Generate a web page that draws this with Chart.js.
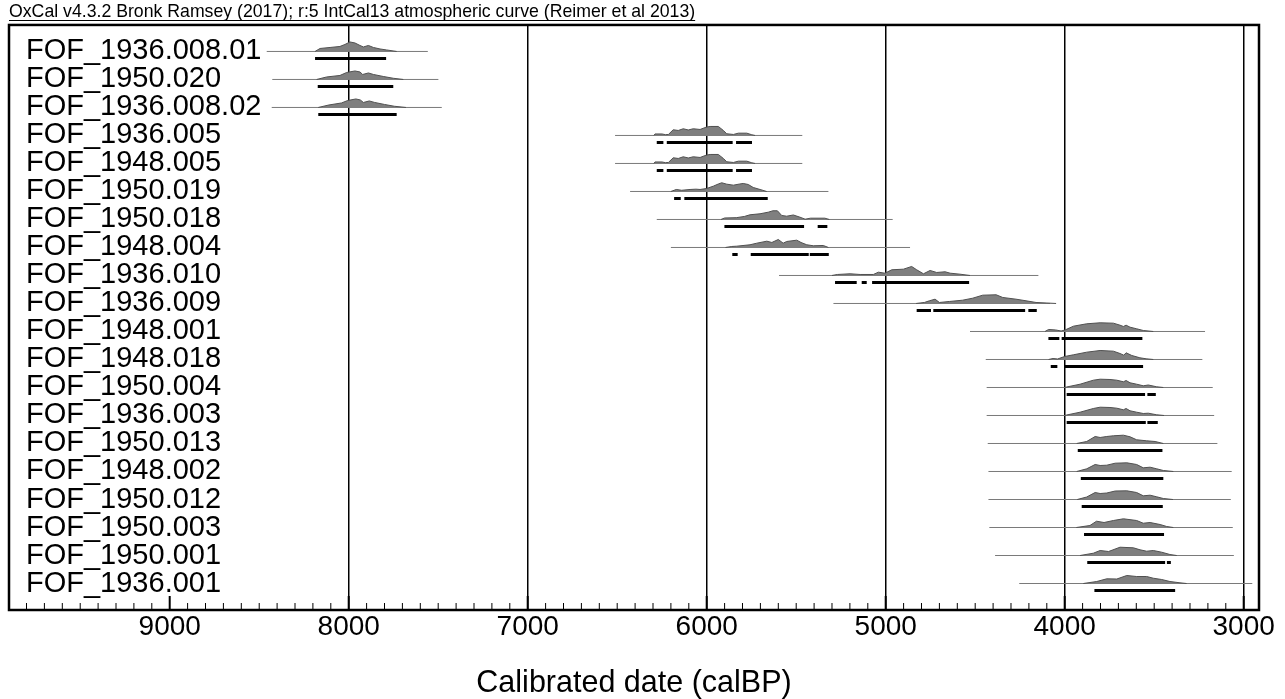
<!DOCTYPE html>
<html>
<head>
<meta charset="utf-8">
<script src="https://cdn.jsdelivr.net/npm/chart.js@4.4.1/dist/chart.umd.min.js"></script>
<style>
    html, body { margin: 0; padding: 0; background: #fff; }
    canvas { display: block; }
</style>
</head>
<body>
<canvas id="oxcalChart" width="1285" height="699"></canvas>
<script>
    "use strict";

    // Samples, top to bottom.
    var rowNames = [
        'FOF_1936.008.01', 'FOF_1950.020', 'FOF_1936.008.02', 'FOF_1936.005', 'FOF_1948.005',
        'FOF_1950.019', 'FOF_1950.018', 'FOF_1948.004', 'FOF_1936.010', 'FOF_1936.009',
        'FOF_1948.001', 'FOF_1948.018', 'FOF_1950.004', 'FOF_1936.003', 'FOF_1950.013',
        'FOF_1948.002', 'FOF_1950.012', 'FOF_1950.003', 'FOF_1950.001', 'FOF_1936.001'
    ];

    // Extent of the thin calibration line (calBP).
    var lineStart = [8458, 8427, 8430, 6512, 6512, 6428, 6279, 6200, 5596, 5292,
        4529, 4441, 4436, 4436, 4430, 4426, 4426, 4421, 4389, 4254];
    var lineEnd = [7558, 7499, 7480, 5466, 5466, 5320, 4961, 4864, 4147, 4082,
        3216, 3231, 3173, 3165, 3147, 3067, 3072, 3061, 3055, 2952];

    // 95.4% ranges, pairs of from/to (calBP).
    var ranges = [
        [8188, 7791],
        [8173, 7751],
        [8170, 7732],
        [6279, 6242, 6223, 5855, 5836, 5747],
        [6279, 6242, 6223, 5855, 5836, 5747],
        [6182, 6145, 6125, 5659],
        [5901, 5456, 5380, 5326],
        [5857, 5827, 5754, 5430, 5424, 5318],
        [5283, 5162, 5134, 5106, 5076, 4534],
        [4827, 4747, 4734, 4221, 4203, 4156],
        [4091, 4030, 4017, 3566],
        [4078, 4041, 4002, 3562],
        [3989, 3551, 3538, 3491],
        [3989, 3547, 3538, 3480],
        [3927, 3454],
        [3910, 3449],
        [3905, 3452],
        [3892, 3445],
        [3874, 3439, 3429, 3407],
        [3834, 3383]
    ];

    // Probability distributions, [calBP, relative density].
    var densities = [
        [[8188, 0], [8160, 3], [8104, 4], [8049, 5], [8021, 7], [7993, 9.5], [7965, 8.5], [7937, 6],
            [7918, 4.5], [7890, 6], [7862, 4], [7825, 2.5], [7788, 1.5], [7732, 0]],
        [[8179, 0], [8123, 2.5], [8049, 4], [8011, 7], [7965, 8.5], [7937, 7.5], [7922, 5], [7890, 6.5],
            [7862, 5], [7807, 3], [7751, 1.2], [7695, 0]],
        [[8170, 0], [8110, 2.5], [8040, 4.5], [8005, 7], [7960, 8.5], [7935, 7.5], [7918, 5], [7885, 6.5],
            [7855, 5], [7800, 3], [7745, 1.2], [7680, 0]],
        [[6295, 0], [6289, 1.5], [6250, 1.5], [6230, 0.8], [6214, 1], [6187, 5.7], [6159, 5], [6131, 6.7],
            [6103, 5.5], [6075, 6.7], [6037, 6], [6003, 8.3], [5981, 9], [5935, 9], [5907, 5], [5888, 1.7],
            [5851, 1], [5823, 2.3], [5776, 2.3], [5748, 0.7], [5730, 0]],
        [[6295, 0], [6289, 1.5], [6250, 1.5], [6230, 0.8], [6214, 1], [6187, 5.7], [6159, 5], [6131, 6.7],
            [6103, 5.5], [6075, 6.7], [6037, 6], [6003, 8.3], [5981, 9], [5935, 9], [5907, 5], [5888, 1.7],
            [5851, 1], [5823, 2.3], [5776, 2.3], [5748, 0.7], [5730, 0]],
        [[6200, 0], [6170, 2], [6140, 1.2], [6093, 2], [6060, 2.3], [6037, 2], [6000, 3], [5963, 5.3],
            [5935, 7.5], [5916, 8.7], [5888, 7.3], [5851, 6.3], [5815, 7.5], [5796, 8], [5768, 7],
            [5740, 4], [5702, 2], [5665, 0]],
        [[5920, 0], [5900, 1.5], [5835, 1.8], [5790, 3], [5758, 4.7], [5702, 5.7], [5656, 7.3], [5630, 8.7],
            [5605, 8.7], [5581, 4], [5553, 3.3], [5516, 4.5], [5479, 2.3], [5450, 0.3], [5420, 1.3],
            [5340, 1.3], [5315, 0]],
        [[5895, 0], [5860, 1], [5832, 1.3], [5758, 2.7], [5720, 4.3], [5664, 6.3], [5636, 5], [5600, 8],
            [5573, 4.3], [5553, 6], [5497, 7.3], [5473, 5], [5441, 2.7], [5404, 1.7], [5349, 2], [5320, 0]],
        [[5300, 0], [5270, 1], [5199, 1.7], [5143, 1], [5069, 1], [5041, 3.3], [5004, 2.3], [4966, 5.7],
            [4901, 6.3], [4855, 9], [4827, 5.7], [4789, 1.7], [4752, 5], [4715, 3], [4668, 3.7],
            [4640, 2.3], [4585, 1.3], [4529, 0]],
        [[4830, 0], [4784, 1], [4756, 2.7], [4724, 4.3], [4700, 1], [4644, 2], [4570, 3.3], [4514, 5.3],
            [4458, 8.3], [4383, 8.7], [4346, 6], [4272, 4.3], [4216, 2.7], [4160, 1], [4104, 0.5], [4048, 0]],
        [[4110, 0], [4090, 2], [4050, 1.5], [4020, 0.5], [3998, 1.5], [3951, 5.3], [3877, 7.7], [3802, 8.7],
            [3728, 8.3], [3691, 6.3], [3672, 5], [3657, 6.3], [3635, 4.3], [3598, 2.7], [3561, 1], [3505, 0]],
        [[4090, 0], [4065, 1], [4040, 0.5], [4000, 3], [3951, 4.7], [3877, 7.3], [3802, 9], [3728, 8.3],
            [3691, 6], [3670, 4.3], [3657, 6.7], [3625, 4], [3580, 1.7], [3545, 0.7], [3505, 0]],
        [[4000, 0], [3989, 0.5], [3914, 3.3], [3840, 7.3], [3802, 8.3], [3747, 8], [3709, 7.3], [3672, 5.7],
            [3657, 7], [3635, 4.7], [3598, 3.3], [3561, 1.7], [3533, 2.5], [3486, 0.7], [3449, 0]],
        [[4000, 0], [3989, 0.5], [3914, 3.3], [3840, 7], [3802, 8.3], [3747, 8], [3709, 7.3], [3672, 5.7],
            [3657, 7], [3635, 4.7], [3598, 3.3], [3561, 2], [3533, 2.3], [3486, 0.7], [3445, 0]],
        [[3933, 0], [3877, 2], [3830, 7], [3802, 6], [3765, 7], [3728, 7.7], [3672, 8.3], [3635, 6.7],
            [3598, 3.7], [3542, 2.7], [3495, 2], [3449, 0]],
        [[3933, 0], [3877, 2.7], [3830, 7], [3802, 6], [3765, 6.3], [3718, 8.3], [3653, 8.7], [3598, 7],
            [3561, 3.7], [3523, 4.3], [3486, 2.7], [3449, 1], [3393, 0]],
        [[3930, 0], [3877, 2.5], [3830, 7], [3802, 6], [3765, 6.5], [3718, 8.5], [3653, 8.7], [3598, 7],
            [3561, 3.7], [3523, 4.3], [3486, 2.7], [3449, 1], [3395, 0]],
        [[3935, 0], [3859, 2], [3822, 6.3], [3780, 5], [3728, 7], [3672, 8.7], [3598, 7], [3561, 4.3],
            [3523, 5], [3467, 3], [3430, 1], [3393, 0]],
        [[3914, 0], [3840, 2.3], [3802, 5], [3755, 4], [3691, 8.3], [3616, 7.7], [3579, 5.7], [3542, 4.3],
            [3505, 5], [3458, 3.3], [3412, 1], [3374, 0]],
        [[3896, 0], [3821, 2], [3765, 4.7], [3709, 4.5], [3653, 8], [3598, 7], [3542, 7], [3505, 5.3],
            [3458, 4], [3412, 2], [3356, 0.7], [3319, 0]]
    ];

    var tickValues = [9000, 8000, 7000, 6000, 5000, 4000, 3000];
    var headerText = 'OxCal v4.3.2 Bronk Ramsey (2017); r:5 IntCal13 atmospheric curve (Reimer et al 2013)';
    var axisTitle = 'Calibrated date (calBP)';

    var FONT = "'Liberation Sans', Arial, sans-serif";
    var HEADER_SIZE = 17.7;
    var DENS_SCALE = 1 / 28; // one density unit = 1px of a 28px row
    var BAR_OFFSET = 0.25;   // range bar sits a quarter row under the baseline

    var datasets = [];
    rowNames.forEach(function(name, i) {
        datasets.push({
            label: name,
            order: 1,
            data: densities[i].map(function(p) {
                return {x: p[0], y: i - p[1] * DENS_SCALE};
            }),
            fill: {value: i},
            backgroundColor: '#7f7f7f',
            borderColor: '#505050',
            borderWidth: 1
        });
        datasets.push({
            label: name + ' range',
            order: 2,
            data: [{x: lineStart[i], y: i}, {x: lineEnd[i], y: i}],
            borderColor: '#7a7a7a',
            borderWidth: 1
        });
        var seg = [];
        for (var k = 0; k < ranges[i].length; k += 2) {
            if (k) {
                seg.push({x: ranges[i][k], y: null});
            }
            seg.push({x: ranges[i][k], y: i + BAR_OFFSET}, {x: ranges[i][k + 1], y: i + BAR_OFFSET});
        }
        datasets.push({
            label: name + ' 95.4%',
            order: 0,
            data: seg,
            borderColor: '#000',
            borderWidth: 3,
            borderCapStyle: 'butt'
        });
    });

    // Frame, 100-year tick marks and the underline of the header.
    var framePlugin = {
        id: 'oxcalFrame',
        afterDraw: function(chart) {
            var ctx = chart.ctx;
            var area = chart.chartArea;
            var xs = chart.scales.x;
            ctx.save();
            ctx.strokeStyle = '#000';
            for (var v = 3000; v <= 9800; v += 100) {
                var px = xs.getPixelForValue(v);
                var major = v % 1000 === 0;
                ctx.lineWidth = major ? 2 : 1;
                ctx.beginPath();
                ctx.moveTo(px, area.bottom);
                ctx.lineTo(px, area.bottom - (major ? 14 : 7));
                ctx.stroke();
            }
            ctx.lineWidth = 2.5;
            ctx.strokeRect(area.left, area.top, area.right - area.left, area.bottom - area.top);

            var t = chart.titleBlock;
            ctx.font = HEADER_SIZE + 'px ' + FONT;
            var w = ctx.measureText(headerText).width;
            ctx.lineWidth = 1;
            ctx.beginPath();
            ctx.moveTo(t.left, 20.5);
            ctx.lineTo(t.left + w, 20.5);
            ctx.stroke();
            ctx.restore();
        }
    };

    new Chart(document.getElementById('oxcalChart').getContext('2d'), {
        type: 'line',
        data: {datasets: datasets},
        options: {
            responsive: false,
            animation: false,
            events: [],
            elements: {
                point: {radius: 0},
                line: {tension: 0}
            },
            layout: {
                padding: {left: 9, right: 26, top: 0, bottom: 0}
            },
            plugins: {
                legend: {display: false},
                tooltip: {enabled: false},
                title: {
                    display: true,
                    text: headerText,
                    align: 'start',
                    color: '#000',
                    font: {family: FONT, size: HEADER_SIZE, weight: 'normal', lineHeight: 1.15},
                    padding: {top: 2, bottom: 2.6}
                }
            },
            scales: {
                x: {
                    type: 'linear',
                    min: 2914.5,
                    max: 9897.8,
                    reverse: true,
                    z: 1,
                    afterBuildTicks: function(scale) {
                        scale.ticks = tickValues.map(function(v) {
                            return {value: v};
                        });
                    },
                    afterFit: function(scale) {
                        scale.height = 89;
                        scale.paddingLeft = 0;
                        scale.paddingRight = 0;
                    },
                    grid: {
                        color: function(c) {
                            return c.tick && c.tick.value === 9000 ? 'rgba(0,0,0,0)' : '#000';
                        },
                        lineWidth: 1.5,
                        drawTicks: false
                    },
                    border: {display: false},
                    ticks: {
                        autoSkip: false,
                        maxRotation: 0,
                        padding: 0,
                        color: '#000',
                        font: {family: FONT, size: 28},
                        callback: function(v) {
                            return String(v);
                        }
                    },
                    title: {
                        display: true,
                        text: axisTitle,
                        color: '#000',
                        font: {family: FONT, size: 30.5, lineHeight: 1},
                        padding: {top: 26.5, bottom: 0}
                    }
                },
                y: {
                    type: 'linear',
                    min: -0.9464,
                    max: 19.946,
                    reverse: true,
                    afterBuildTicks: function(scale) {
                        scale.ticks = rowNames.map(function(n, i) {
                            return {value: i};
                        });
                    },
                    afterFit: function(scale) {
                        scale.width = 0;
                        scale.paddingTop = 0;
                        scale.paddingBottom = 0;
                    },
                    grid: {display: false},
                    border: {display: false},
                    ticks: {
                        mirror: true,
                        padding: 17,
                        autoSkip: false,
                        color: '#000',
                        font: {family: FONT, size: 29},
                        callback: function(v) {
                            return rowNames[v];
                        }
                    }
                }
            }
        },
        plugins: [framePlugin]
    });
</script>
</body>
</html>
